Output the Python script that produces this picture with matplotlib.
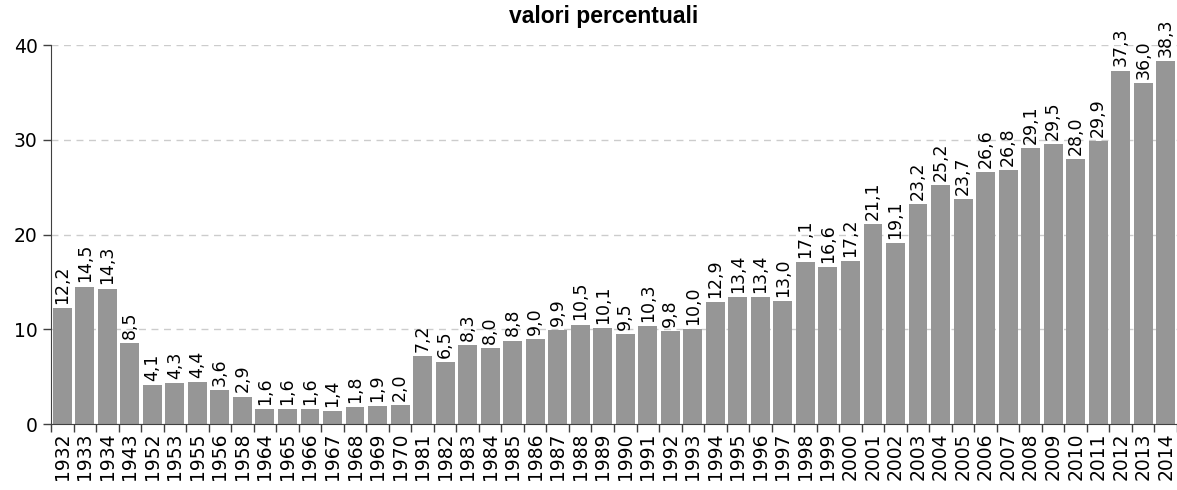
import matplotlib
matplotlib.use("Agg")
import matplotlib.pyplot as plt
import numpy as np

anni = ["1932", "1933", "1934", "1943", "1952", "1953", "1955", "1956", "1958",
        "1964", "1965", "1966", "1967", "1968", "1969", "1970",
        "1981", "1982", "1983", "1984", "1985", "1986", "1987", "1988", "1989",
        "1990", "1991", "1992", "1993", "1994", "1995", "1996", "1997", "1998",
        "1999", "2000", "2001", "2002", "2003", "2004", "2005", "2006", "2007",
        "2008", "2009", "2010", "2011", "2012", "2013", "2014"]
valori = [12.2, 14.5, 14.3, 8.5, 4.1, 4.3, 4.4, 3.6, 2.9,
          1.6, 1.6, 1.6, 1.4, 1.8, 1.9, 2.0,
          7.2, 6.5, 8.3, 8.0, 8.8, 9.0, 9.9, 10.5, 10.1,
          9.5, 10.3, 9.8, 10.0, 12.9, 13.4, 13.4, 13.0, 17.1,
          16.6, 17.2, 21.1, 19.1, 23.2, 25.2, 23.7, 26.6, 26.8,
          29.1, 29.5, 28.0, 29.9, 37.3, 36.0, 38.3]

plt.rcParams["font.family"] = ["DejaVu Sans"]

fig = plt.figure(figsize=(11.77, 4.9), dpi=100)
ax = fig.add_axes([51 / 1177, 1 - 424 / 490, 1 - 51 / 1177, (424 - 45) / 490])

x = np.arange(len(anni))
ax.bar(x, valori, width=0.84, color="#969696", zorder=2)

for xi, v in zip(x, valori):
    ax.annotate(f"{v:.1f}".replace(".", ","), (xi, v), xytext=(0, 3),
                textcoords="offset points", rotation=90, ha="center", va="bottom",
                fontsize=12.5, color="black", zorder=3)

ax.set_xlim(-0.5, len(anni) - 0.5)
ax.set_ylim(0, 40)
ax.set_yticks([0, 10, 20, 30, 40])
ax.yaxis.grid(True, linestyle=(0, (5, 4)), color="#cccccc", linewidth=1, zorder=0)

ax.set_xticks(x)
ax.set_xticklabels(anni, rotation=90, fontsize=13.5)
ax.set_xticks(np.arange(-0.5, len(anni)), minor=True)
ax.tick_params(axis="x", which="major", length=0, pad=6)
ax.tick_params(axis="x", which="minor", length=6, width=1, color="#404040")
ax.tick_params(axis="y", length=6, width=1, color="#404040", labelsize=13.5)

for s in ["top", "right"]:
    ax.spines[s].set_visible(False)
ax.spines["left"].set_color("#404040")
ax.spines["bottom"].set_color("#404040")

fig.text(604 / 1177, 1 - 16 / 490, "valori percentuali", ha="center", va="center",
         fontsize=16.5, fontweight="bold", family=["Liberation Sans", "DejaVu Sans"])

fig.savefig("out.png", dpi=100)
